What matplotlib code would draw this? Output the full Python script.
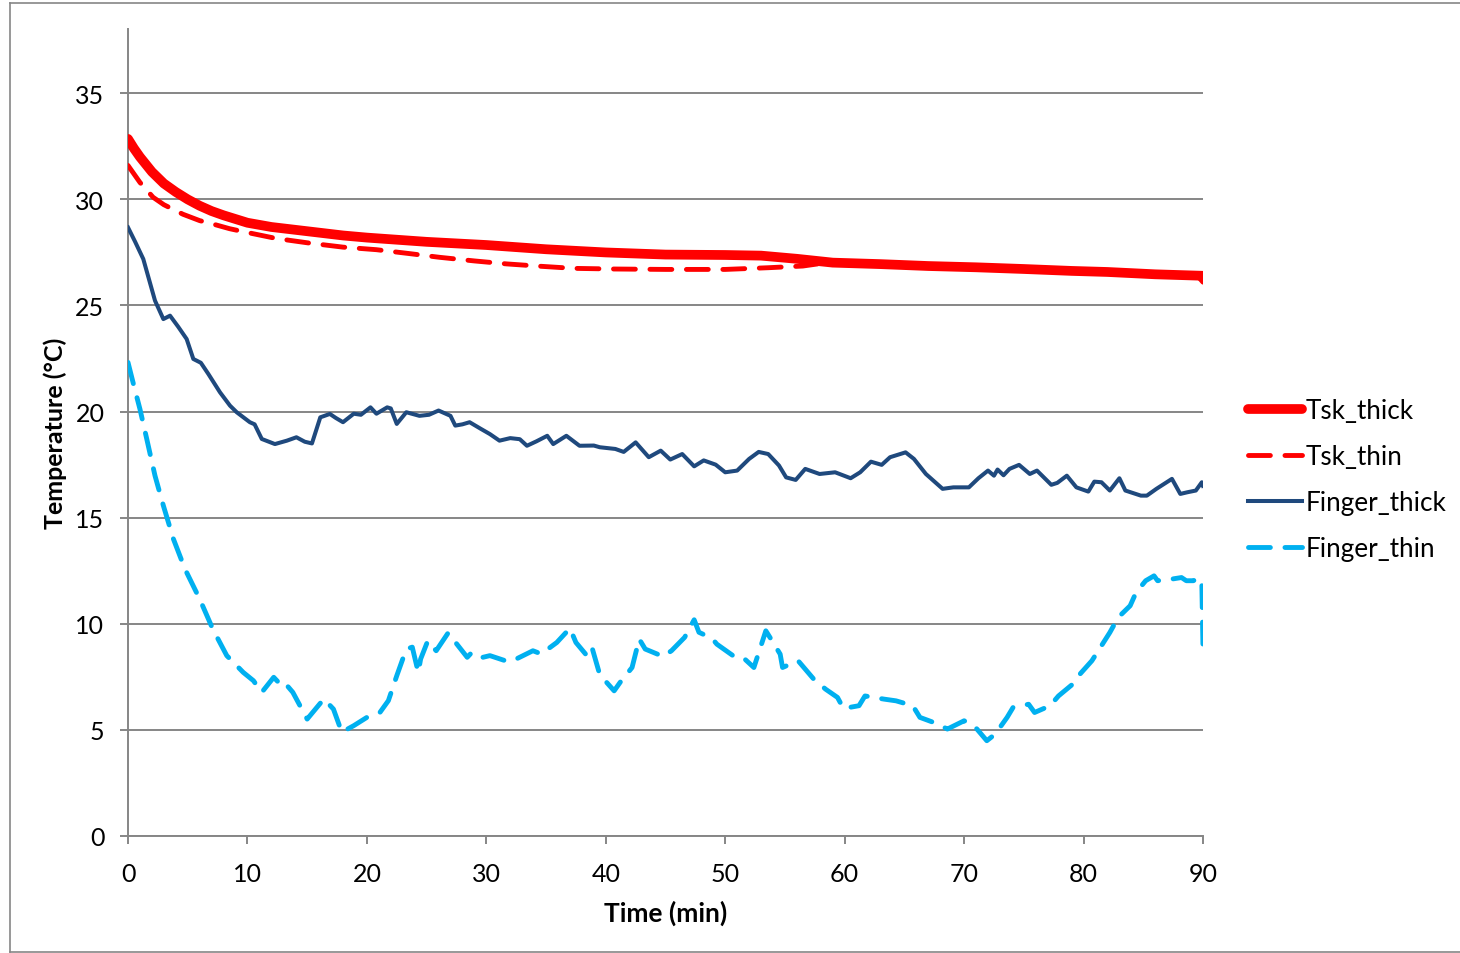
import matplotlib
matplotlib.use("Agg")
import matplotlib.pyplot as plt
from matplotlib.lines import Line2D

plt.rcParams['font.family'] = ['Lato', 'DejaVu Sans']

# Tsk_thick
t_tsk_thick = [0, 0.5, 1, 2, 3, 4, 5, 6, 7, 8, 10, 12, 15, 18, 20, 25, 30, 35, 40, 45,
               50, 53, 56, 59, 63, 67, 71, 75, 79, 82, 86, 90]
tsk_thick = [32.85, 32.4, 32.0, 31.3, 30.75, 30.35, 30.0, 29.7, 29.45, 29.25, 28.9, 28.7,
             28.5, 28.3, 28.2, 28.0, 27.85, 27.65, 27.5, 27.4, 27.38, 27.35, 27.2, 27.02,
             26.95, 26.86, 26.8, 26.72, 26.63, 26.58, 26.47, 26.4]

# Tsk_thin
t_tsk_thin = [0, 1, 2.1, 3, 4.6, 6, 7.1, 8.5, 9.9, 12.4, 15.2, 18, 20.8, 23.5, 26.1, 29,
              31.7, 34.5, 37.3, 40.6, 45, 50, 53.6, 56.5, 58, 60, 63, 66, 68, 70, 72, 74,
              76, 78, 80, 82, 84, 86, 88, 89.5, 90]
tsk_thin = [31.6, 30.8, 30.1, 29.75, 29.3, 29.0, 28.84, 28.62, 28.45, 28.16, 27.94, 27.75,
            27.63, 27.45, 27.27, 27.1, 26.96, 26.85, 26.75, 26.72, 26.7, 26.7, 26.78, 26.86,
            26.98, 27.0, 26.97, 26.9, 26.93, 26.86, 26.82, 26.78, 26.76, 26.66, 26.64, 26.62,
            26.58, 26.52, 26.47, 26.42, 26.1]

# Finger_thick
t_finger_thick = [0, 0.6, 1.28, 2.26, 2.96, 3.52, 4.2, 4.91, 5.47, 6.1, 6.73, 7.7, 8.54, 9.1,
                  10.2, 10.6, 11.2, 12.3, 13.3, 14.1, 14.8, 15.4, 16.1, 16.9, 17.4, 18.0,
                  18.9, 19.5, 20.3, 20.8, 21.7, 22.0, 22.5, 23.3, 24.4, 25.2, 26.0, 27.0,
                  27.4, 28.0, 28.6, 29.5, 30.3, 31.1, 32.0, 32.8, 33.4, 34.2, 35.1, 35.6,
                  36.7, 37.8, 39.0, 39.5, 40.8, 41.5, 42.5, 43.6, 44.6, 45.4, 46.4, 47.4,
                  48.2, 49.2, 50.0, 51.0, 52.0, 52.8, 53.6, 54.5, 55.1, 55.9, 56.7, 57.9,
                  59.2, 60.5, 61.3, 62.2, 63.1, 63.8, 65.1, 65.8, 66.8, 68.2, 69.1, 70.4,
                  71.2, 72.0, 72.5, 72.8, 73.3, 73.8, 74.6, 75.5, 76.1, 77.3, 77.8, 78.6,
                  79.4, 80.4, 80.9, 81.5, 82.2, 83.0, 83.5, 84.8, 85.3, 86.1, 87.4, 88.1,
                  88.7, 89.4, 89.9, 90.0]
finger_thick = [28.68, 28.0, 27.19, 25.23, 24.36, 24.52, 24.0, 23.42, 22.48, 22.3, 21.77,
                20.91, 20.28, 19.97, 19.5, 19.4, 18.71, 18.47, 18.63, 18.79, 18.58, 18.5,
                19.73, 19.89, 19.7, 19.5, 19.9, 19.85, 20.2, 19.9, 20.2, 20.15, 19.42, 19.97,
                19.8, 19.85, 20.05, 19.8, 19.34, 19.4, 19.5, 19.2, 18.94, 18.63, 18.75, 18.7,
                18.39, 18.6, 18.86, 18.47, 18.86, 18.39, 18.4, 18.32, 18.24, 18.1, 18.55,
                17.85, 18.16, 17.74, 18.0, 17.42, 17.7, 17.5, 17.14, 17.22, 17.77, 18.1, 18.0,
                17.46, 16.9, 16.78, 17.3, 17.06, 17.14, 16.86, 17.14, 17.64, 17.49, 17.85,
                18.08, 17.77, 17.06, 16.36, 16.43, 16.43, 16.86, 17.22, 16.98, 17.27, 17.0,
                17.3, 17.49, 17.06, 17.22, 16.55, 16.64, 16.98, 16.43, 16.23, 16.7, 16.67,
                16.28, 16.86, 16.28, 16.04, 16.04, 16.36, 16.83, 16.12, 16.2, 16.28, 16.67,
                16.5]

# Finger_thin
t_finger_thin = [0, 0.5, 1.0, 1.57, 2.26, 2.96, 3.8, 4.77, 6.0, 7.1, 8.27, 9.65, 10.5, 11.2,
                 12.2, 13.0, 13.3, 13.8, 15.0, 16.4, 17.2, 17.9, 18.9, 20.0, 21.1, 21.8,
                 22.5, 23.3, 23.8, 24.3, 24.5, 25.1, 25.8, 26.8, 27.2, 28.4, 28.8, 29.7,
                 30.3, 31.8, 32.5, 33.9, 34.6, 35.9, 37.0, 37.5, 38.3, 38.8, 39.5, 40.7,
                 41.2, 42.2, 42.8, 43.3, 44.8, 45.5, 46.6, 47.4, 47.8, 48.9, 49.3, 50.6,
                 51.4, 52.4, 53.4, 53.7, 54.6, 54.8, 56.1, 57.4, 58.4, 59.4, 59.9, 61.2,
                 61.7, 63.3, 64.3, 65.7, 66.3, 67.6, 68.6, 70.0, 70.8, 71.9, 72.6, 73.6,
                 74.1, 75.4, 75.9, 77.2, 77.9, 79.1, 79.7, 80.7, 81.4, 82.2, 82.9, 83.9,
                 84.4, 85.2, 85.9, 86.2, 87.3, 88.2, 88.6, 89.2, 89.6, 89.9, 90.0]
finger_thin = [22.32, 21.2, 20.12, 18.71, 16.98, 15.57, 14.0, 12.58, 11.17, 9.75, 8.5, 7.71,
               7.32, 6.77, 7.48, 7.0, 7.1, 6.77, 5.51, 6.46, 5.98, 4.89, 5.2, 5.59, 5.83,
               6.38, 7.55, 8.81, 8.9, 7.71, 8.34, 9.2, 8.73, 9.57, 9.28, 8.42, 8.66, 8.42,
               8.5, 8.22, 8.34, 8.73, 8.58, 9.12, 9.79, 9.12, 8.58, 8.97, 7.6, 6.84, 7.24,
               7.94, 9.28, 8.81, 8.46, 8.73, 9.36, 10.19, 9.6, 9.31, 9.04, 8.52, 8.46, 7.94,
               9.67, 9.4, 8.57, 7.94, 8.26, 7.4, 6.92, 6.53, 6.01, 6.14, 6.6, 6.45, 6.37,
               6.14, 5.59, 5.32, 5.04, 5.43, 5.22, 4.49, 4.8, 5.59, 6.06, 6.21, 5.82, 6.14,
               6.6, 7.16, 7.63, 8.26, 8.88, 9.59, 10.3, 10.85, 11.48, 12.03, 12.26, 12.03,
               12.1, 12.18, 12.03, 12.03, 12.18, 11.95, 8.8]

x_ticks = [0, 10, 20, 30, 40, 50, 60, 70, 80, 90]
y_ticks = [0, 5, 10, 15, 20, 25, 30, 35]

GRAY = '#868686'
W, H = 1460, 954

fig = plt.figure(figsize=(W / 100, H / 100), dpi=100)
ax = fig.add_axes([128 / W, 1 - 837 / H, (1203 - 128) / W, (837 - 30) / H])

# series
ax.plot(t_finger_thin, finger_thin, color='#00B0F0', lw=3.5, ls=(0, (4.5, 3)),
        dash_capstyle='round', label='Finger_thin', zorder=3)
ax.plot(t_finger_thick, finger_thick, color='#1F497D', lw=2.9,
        solid_joinstyle='round', label='Finger_thick', zorder=4)
ax.plot(t_tsk_thick, tsk_thick, color='#FF0000', lw=7, solid_capstyle='round',
        label='Tsk_thick', zorder=5)
ax.plot(t_tsk_thin, tsk_thin, color='#FF0000', lw=3.5, ls=(0, (4.5, 3)),
        dash_capstyle='round', label='Tsk_thin', zorder=6)

ax.set_xlim(0, 90)
ax.set_ylim(0, 38.03)
ax.set_xticks(x_ticks)
ax.set_yticks(y_ticks)
ax.yaxis.grid(True, color=GRAY, lw=1.4)
ax.set_axisbelow(True)

for side in ['top', 'right']:
    ax.spines[side].set_visible(False)
for side in ['left', 'bottom']:
    ax.spines[side].set_color(GRAY)
    ax.spines[side].set_linewidth(1.4)
ax.tick_params(axis='both', direction='out', length=6, width=1.4, color=GRAY,
               labelsize=18, labelcolor='black')
ax.tick_params(axis='y', pad=11)
ax.tick_params(axis='x', pad=13)

ax.set_xlabel('Time (min)', fontsize=19, fontweight='bold', labelpad=10)
ax.set_ylabel('Temperature (°C)', fontsize=18, fontweight='bold', labelpad=6)

# legend in the order of the reference
h = {l.get_label(): l for l in ax.get_lines()}
order = ['Tsk_thick', 'Tsk_thin', 'Finger_thick', 'Finger_thin']
leg = fig.legend([h[k] for k in order], order, loc='center left',
                 bbox_to_anchor=(1248 / W, 1 - 480.5 / H), bbox_transform=fig.transFigure,
                 frameon=False, fontsize=18.8, handlelength=2.07, handletextpad=0.12,
                 labelspacing=0.8, borderpad=0, borderaxespad=0)

# outer chart border
fig.add_artist(Line2D([10 / W, 10 / W], [1 - 953 / H, 1 - 4 / H], color=GRAY, lw=1.2,
                      transform=fig.transFigure))
fig.add_artist(Line2D([10 / W, 1], [1 - 4 / H, 1 - 4 / H], color=GRAY, lw=1.2,
                      transform=fig.transFigure))
fig.add_artist(Line2D([10 / W, 1], [1 - 953 / H, 1 - 953 / H], color=GRAY, lw=1.2,
                      transform=fig.transFigure))

plt.savefig('out.png', dpi=100)
plt.close()
